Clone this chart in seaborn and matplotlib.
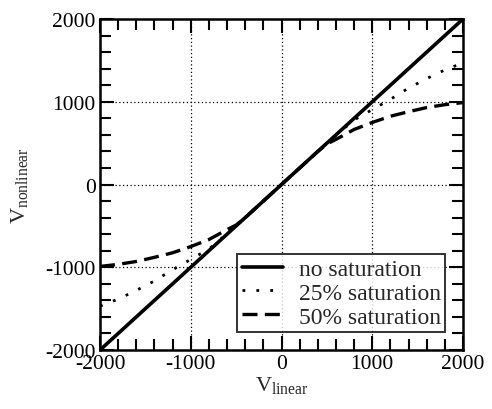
import pandas as pd
import matplotlib.pyplot as plt
import seaborn as sns
from matplotlib.ticker import MultipleLocator

# values
v_linear = [-2000, -1800, -1600, -1400, -1200, -1000, -800, -600, -500, -400, -200,
            0, 200, 400, 500, 600, 800, 1000, 1200, 1400, 1600, 1800, 2000]
no_sat = [-2000, -1800, -1600, -1400, -1200, -1000, -800, -600, -500, -400, -200,
          0, 200, 400, 500, 600, 800, 1000, 1200, 1400, 1600, 1800, 2000]
sat_25 = [-1470, -1385, -1280, -1165, -1030, -905, -780, -595, -498, -400, -200,
          0, 200, 400, 498, 595, 780, 905, 1030, 1165, 1280, 1385, 1470]
sat_50 = [-990, -965, -930, -880, -825, -750, -665, -545, -490, -400, -200,
          0, 200, 400, 490, 545, 665, 750, 825, 880, 930, 965, 990]
labels = ['no saturation', '25% saturation', '50% saturation']

df = pd.DataFrame({'x': v_linear, 'none': no_sat, 's25': sat_25, 's50': sat_50})

sns.set_style("ticks")
plt.rcParams['font.family'] = ['Liberation Serif', 'DejaVu Serif']
plt.rcParams['mathtext.fontset'] = 'custom'
plt.rcParams['mathtext.rm'] = 'Liberation Serif'
plt.rcParams['axes.unicode_minus'] = False

fig = plt.figure(figsize=(4.92, 4.10), dpi=100)
ax = fig.add_axes([0.2033, 0.1439, 0.7378, 0.8073])

sns.lineplot(data=df, x='x', y='none', ax=ax, color='black', lw=2.6, label=labels[0])
sns.lineplot(data=df, x='x', y='s25', ax=ax, color='black', lw=2.0,
             linestyle=(0, (1, 4)), label=labels[1])
sns.lineplot(data=df, x='x', y='s50', ax=ax, color='black', lw=2.4,
             linestyle=(0, (4.5, 2.2)), label=labels[2])

ax.set_xlim(-2000, 2000)
ax.set_ylim(-2000, 2000)
ax.xaxis.set_major_locator(MultipleLocator(1000))
ax.yaxis.set_major_locator(MultipleLocator(1000))
ax.xaxis.set_minor_locator(MultipleLocator(200))
ax.yaxis.set_minor_locator(MultipleLocator(200))
ax.tick_params(which='both', direction='in', top=True, right=True, width=1.5,
               labelsize=15.5, colors='black')
ax.tick_params(which='major', length=10, pad=3)
ax.tick_params(which='minor', length=8)

for g in [-1000, 0, 1000]:
    ax.axvline(g, color='black', lw=0.9, linestyle=(0, (1, 2)), zorder=0)
    ax.axhline(g, color='black', lw=0.9, linestyle=(0, (1, 2)), zorder=0)

for s in ax.spines.values():
    s.set_linewidth(1.8)
    s.set_color('black')

ax.set_xlabel(r'V$_{\mathrm{linear}}$', fontsize=16, labelpad=1)
ax.set_ylabel(r'V$_{\mathrm{nonlinear}}$', fontsize=16, labelpad=10)

leg = ax.legend(loc='lower right', fontsize=17, frameon=True, fancybox=False,
                handlelength=1.75, handletextpad=0.65, borderpad=0.2,
                labelspacing=0.1, borderaxespad=0.75)
leg.get_frame().set_edgecolor('black')
leg.get_frame().set_linewidth(1.4)

plt.savefig('out.png', dpi=100)
